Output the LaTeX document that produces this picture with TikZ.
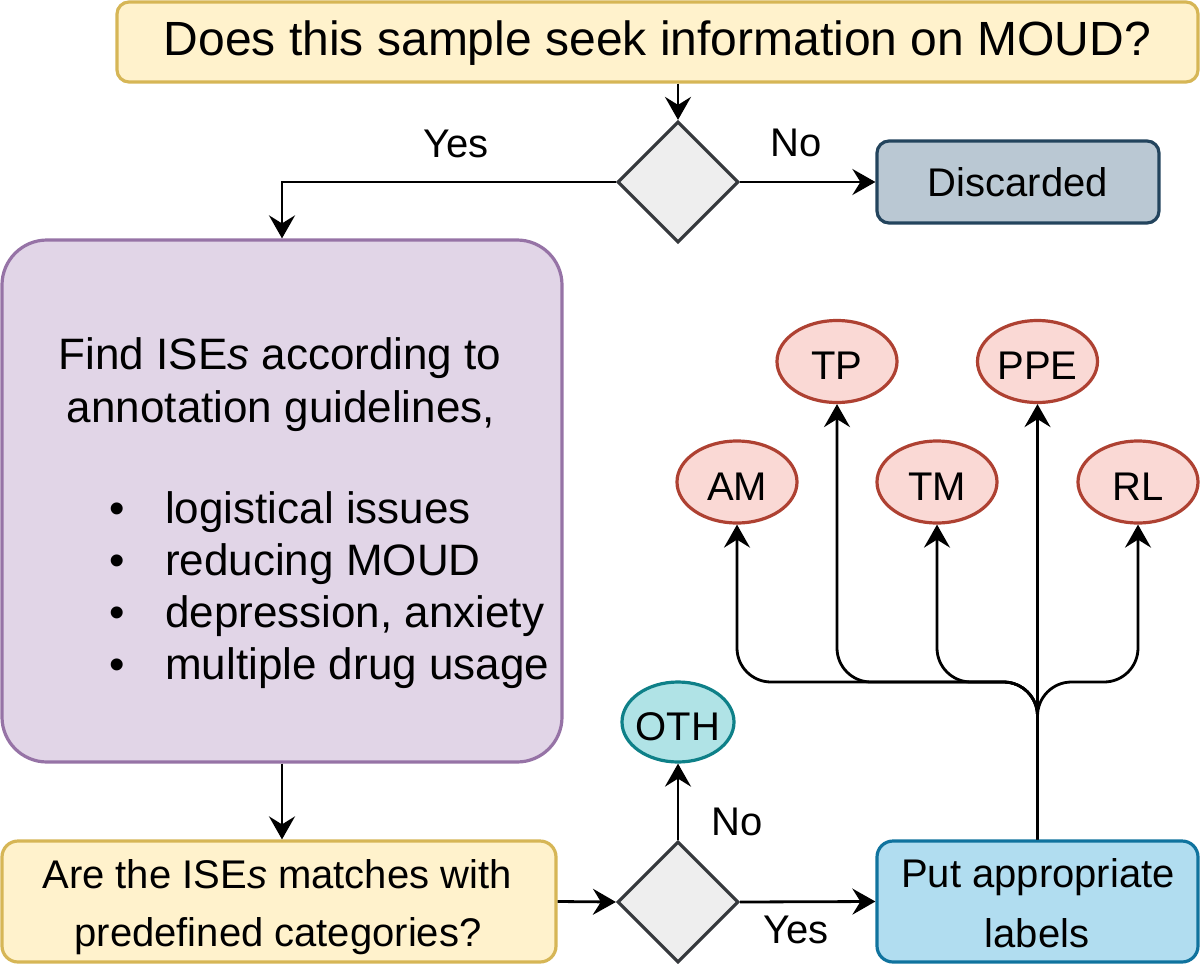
\documentclass[tikz,border=0pt]{standalone}
\usepackage{fontspec}
\setmainfont{Liberation Sans}
\usetikzlibrary{arrows.meta,shapes.geometric}
\definecolor{yfill}{HTML}{FFF2CC}
\definecolor{ystroke}{HTML}{D6B656}
\definecolor{pfill}{HTML}{E1D5E7}
\definecolor{pstroke}{HTML}{9673A6}
\definecolor{gfill}{HTML}{BAC8D3}
\definecolor{gstroke}{HTML}{23445D}
\definecolor{dfill}{HTML}{EEEEEE}
\definecolor{dstroke}{HTML}{36393D}
\definecolor{rfill}{HTML}{FAD9D5}
\definecolor{rstroke}{HTML}{AE4132}
\definecolor{tfill}{HTML}{B0E3E6}
\definecolor{tstroke}{HTML}{0E8088}
\definecolor{bfill}{HTML}{B1DDF0}
\definecolor{bstroke}{HTML}{10739E}
\begin{document}
\begin{tikzpicture}[x=1pt,y=-1pt,
  box/.style={rectangle, draw, line width=3.2pt, inner sep=0pt},
  decision/.style={diamond, draw=dstroke, fill=dfill, line width=3.2pt,
    minimum width=121pt, minimum height=121pt, inner sep=0pt},
  oval/.style={ellipse, draw=rstroke, fill=rfill, line width=3.2pt,
    minimum width=120pt, minimum height=82pt, inner xsep=-6pt, inner ysep=0pt,
    font=\fontsize{40}{48}\selectfont, text height=36pt, text depth=0pt},
  txt/.style={inner sep=0pt, font=\fontsize{40}{48}\selectfont},
  ptxt/.style={inner sep=0pt, font=\fontsize{44}{53}\selectfont},
  arr/.style={line width=2.8pt, -{Stealth[length=23pt,width=26pt,inset=8pt]}}
]
\useasboundingbox (0,0) rectangle (1200,964);

% top question
\node[box, draw=ystroke, fill=yfill, rounded corners=12pt,
  minimum width=1081pt, minimum height=80pt,
  font=\fontsize{48}{57}\selectfont, text height=26pt, text depth=0pt]
  (q1) at (657.5,42) {Does this sample seek information on MOUD?};

\node[decision] (d1) at (678,182) {};

\node[box, draw=gstroke, fill=gfill, rounded corners=12pt,
  minimum width=282pt, minimum height=82pt,
  font=\fontsize{40}{48}\selectfont, text height=28pt, text depth=0pt]
  (disc) at (1018,182) {Discarded};

% purple box
\node[box, draw=pstroke, fill=pfill, rounded corners=45pt,
  minimum width=560pt, minimum height=522pt] (find) at (282,501) {};
\node[ptxt, anchor=base] (f1) at (280,369) {Find ISE\textit{s} according to};
\node[ptxt, anchor=base] (f2) at (281,422) {annotation guidelines,};
\node[ptxt, anchor=base west] (b1) at (109,523) {\makebox[56pt][l]{•}logistical issues};
\node[ptxt, anchor=base west] (b2) at (109,575) {\makebox[56pt][l]{•}reducing MOUD};
\node[ptxt, anchor=base west] (b3) at (109,627) {\makebox[56pt][l]{•}depression, anxiety};
\node[ptxt, anchor=base west] (b4) at (109,679) {\makebox[56pt][l]{•}multiple drug usage};

% bottom question
\node[box, draw=ystroke, fill=yfill, rounded corners=16pt,
  minimum width=554pt, minimum height=121pt] (q2) at (279,901.5) {};
\node[txt, anchor=base] (q2a) at (277,888) {Are the ISE\textit{s} matches with};
\node[txt, anchor=base] (q2b) at (278,946) {predefined categories?};

\node[decision] (d2) at (678,902) {};

\node[oval, draw=tstroke, fill=tfill, minimum width=112pt, minimum height=80pt]
  (oth) at (678,722) {OTH};

% put labels box
\node[box, draw=bstroke, fill=bfill, rounded corners=16pt,
  minimum width=321pt, minimum height=121pt] (put) at (1037.5,901.5) {};
\node[txt, anchor=base] (pa) at (1038,887) {Put appropriate};
\node[txt, anchor=base] (pb) at (1037,947) {labels};

% label ellipses
\node[oval] (tp)  at (837,361.5) {TP};
\node[oval] (ppe) at (1037.5,361.5) {PPE};
\node[oval] (am)  at (737,482) {AM};
\node[oval] (tm)  at (937,482) {TM};
\node[oval] (rl)  at (1138,482) {RL};

% edge labels
\node[txt, anchor=base] (yes1) at (456,157) {Yes};
\node[txt, anchor=base] (no1)  at (796,156) {No};
\node[txt, anchor=base] (no2)  at (737,835) {No};
\node[txt, anchor=base] (yes2) at (796,943) {Yes};

% connectors
\draw[arr] (q1.south -| d1.north) -- (d1.north);
\draw[arr] (d1.east) -- (disc.west);
\draw[arr] (d1.west) -| (find.north);
\draw[arr] (find.south) -- (find.south |- q2.north);
\draw[arr] (q2.east) -- (d2.west);
\draw[arr] (d2.north) -- (oth.south);
\draw[arr] (d2.east) -- (put.west);

\coordinate (jn) at (1037.5,682);
\draw[arr, rounded corners=34pt] (put.north) -- (jn) -| (am.south);
\draw[arr, rounded corners=34pt] (put.north) -- (jn) -| (tp.south);
\draw[arr, rounded corners=34pt] (put.north) -- (jn) -| (tm.south);
\draw[arr, rounded corners=34pt] (put.north) -- (jn) -| (rl.south);
\draw[arr] (put.north) -- (ppe.south);
\end{tikzpicture}
\end{document}
